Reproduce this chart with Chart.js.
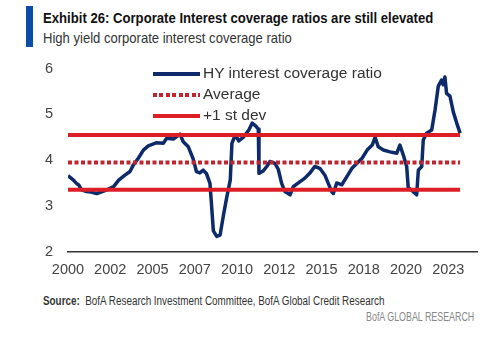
<!DOCTYPE html>
<html>
<head>
<meta charset="utf-8">
<script src="https://cdn.jsdelivr.net/npm/chart.js@4.4.1/dist/chart.umd.min.js"></script>
<style>
  body { margin: 0; width: 500px; height: 360px; background: #fff; position: relative; overflow: hidden;
         font-family: "Liberation Sans", Arial, sans-serif; }
  .bar { position: absolute; left: 26px; top: 6px; width: 7px; height: 41px; background: #0a4ea8; }
  .title { position: absolute; left: 43px; top: 9px; font-size: 15px; font-weight: bold; color: #111; white-space: nowrap;
           transform: scaleX(0.875); transform-origin: left top; }
  .subtitle { position: absolute; left: 43px; top: 29px; font-size: 15px; color: #333; white-space: nowrap;
              transform: scaleX(0.87); transform-origin: left top; }
  #wrap { position: absolute; left: 0; top: 45px; width: 500px; height: 245px; }
  .legend { position: absolute; left: 153px; top: 62px; font-size: 15.5px; color: #333; }
  .legend div { height: 21px; line-height: 21px; white-space: nowrap; }
  .legend span { display: inline-block; width: 47px; height: 4px; vertical-align: middle; margin-right: 3px; }
  .source { position: absolute; left: 43px; top: 294px; font-size: 12.5px; color: #333; white-space: nowrap;
            transform: scaleX(0.79); transform-origin: left top; }
  .brand { position: absolute; right: 26px; top: 310px; font-size: 12px; color: #888; white-space: nowrap;
           transform: scaleX(0.74); transform-origin: right top; }
</style>
</head>
<body>
<div class="bar"></div>
<div class="title">Exhibit 26: Corporate Interest coverage ratios are still elevated</div>
<div class="subtitle">High yield corporate interest coverage ratio</div>
<div id="wrap"><canvas id="chart"></canvas></div>
<div class="legend">
  <div><span style="background:#0d2a6b"></span>HY interest coverage ratio</div>
  <div><span style="background:repeating-linear-gradient(90deg,#c0262d 0 4px,transparent 4px 6.5px)"></span>Average</div>
  <div><span style="background:#dc1f26"></span>+1 st dev</div>
</div>
<div class="source"><b>Source:</b>&nbsp; BofA Research Investment Committee, BofA Global Credit Research</div>
<div class="brand">BofA GLOBAL RESEARCH</div>
<script>
const years = [2000.0, 2000.2, 2000.35, 2000.5, 2000.65, 2000.8, 2001.1, 2001.36, 2001.7, 2001.95,
  2002.3, 2002.7, 2003.0, 2003.37, 2003.67, 2003.86, 2004.16, 2004.46, 2004.75, 2005.25,
  2005.64, 2005.84, 2006.23, 2006.63, 2006.82, 2007.12, 2007.41, 2007.6, 2007.8, 2008.0,
  2008.2, 2008.4, 2008.5, 2008.6, 2008.8, 2009.0, 2009.2, 2009.4, 2009.6, 2009.7,
  2009.9, 2010.1, 2010.4, 2010.7, 2010.9, 2011.1, 2011.26, 2011.3, 2011.54, 2011.76,
  2011.95, 2012.25, 2012.44, 2012.64, 2012.84, 2013.14, 2013.33, 2013.73, 2014.0, 2014.3,
  2014.6, 2014.9, 2015.2, 2015.4, 2015.6, 2015.7, 2015.9, 2016.2, 2016.5, 2016.8,
  2017.1, 2017.4, 2017.7, 2018.0, 2018.17, 2018.36, 2018.66, 2019.05, 2019.45, 2019.64,
  2019.84, 2020.04, 2020.13, 2020.43, 2020.63, 2020.73, 2020.93, 2021.02, 2021.22, 2021.52,
  2021.72, 2021.91, 2022.1, 2022.2, 2022.3, 2022.4, 2022.6, 2022.8, 2023.0, 2023.2]
const ratio = [3.66, 3.60, 3.55, 3.49, 3.45, 3.35, 3.31, 3.30, 3.27, 3.30,
  3.35, 3.42, 3.56, 3.67, 3.75, 3.89, 4.04, 4.22, 4.31, 4.38,
  4.37, 4.48, 4.46, 4.57, 4.40, 4.29, 4.02, 3.75, 3.72, 3.78,
  3.70, 3.49, 2.98, 2.45, 2.33, 2.36, 2.80, 3.20, 3.56, 4.37,
  4.55, 4.42, 4.51, 4.66, 4.81, 4.75, 4.68, 3.71, 3.76, 3.86,
  3.97, 3.93, 3.80, 3.49, 3.31, 3.24, 3.42, 3.53, 3.60, 3.71,
  3.86, 3.82, 3.67, 3.49, 3.31, 3.27, 3.50, 3.46, 3.64, 3.82,
  3.93, 4.04, 4.22, 4.33, 4.50, 4.29, 4.22, 4.18, 4.15, 4.33,
  4.11, 3.86, 3.40, 3.31, 3.24, 3.78, 3.86, 4.44, 4.59, 4.66,
  5.10, 5.62, 5.75, 5.65, 5.82, 5.46, 5.40, 5.05, 4.81, 4.59]

const average = 3.95
const upperBand = 4.55
const lowerBand = 3.35
const bandSpan = [2000, 2023.2]

const tickPos = [2000, 2002.5, 2005, 2007.5, 2010, 2012.5, 2015, 2017.5, 2020, 2022.5]
const tickLabels = ['2000', '2002', '2005', '2007', '2010', '2012', '2015', '2018', '2020', '2023']

const flat = v => bandSpan.map(x => ({ x, y: v }))
const tickFont = { family: '"Liberation Sans", Arial, sans-serif', size: 14.5 }

new Chart(document.getElementById('chart'), {
  type: 'line',
  data: {
    datasets: [
      {
        label: 'HY interest coverage ratio',
        data: years.map((x, i) => ({ x, y: ratio[i] })),
        borderColor: '#0d2a6b',
        borderWidth: 3.5,
        borderJoinStyle: 'round',
        pointRadius: 0,
        tension: 0,
        order: 2
      },
      {
        label: 'Average',
        data: flat(average),
        borderColor: '#c0262d',
        borderWidth: 4,
        borderDash: [4, 2.5],
        pointRadius: 0,
        order: 1
      },
      {
        label: '+1 st dev',
        data: flat(upperBand),
        borderColor: '#dc1f26',
        borderWidth: 4,
        pointRadius: 0,
        order: 1
      },
      {
        label: '-1 st dev',
        data: flat(lowerBand),
        borderColor: '#dc1f26',
        borderWidth: 4,
        pointRadius: 0,
        order: 1
      }
    ]
  },
  options: {
    responsive: true,
    maintainAspectRatio: false,
    animation: false,
    layout: { padding: { top: 10, right: 23, bottom: 8.5, left: 0 } },
    plugins: { legend: { display: false }, tooltip: { enabled: false } },
    scales: {
      x: {
        type: 'linear',
        min: 2000,
        max: 2024.2,
        afterBuildTicks: axis => { axis.ticks = tickPos.map(value => ({ value })) },
        afterFit: axis => { axis.height = 30 },
        ticks: {
          autoSkip: false,
          maxRotation: 0,
          padding: 10,
          color: '#444',
          font: tickFont,
          callback: (v, i) => tickLabels[i]
        },
        grid: { display: false, drawTicks: false },
        border: { display: true, color: '#333', width: 1.5 }
      },
      y: {
        min: 2,
        max: 6,
        afterFit: axis => { axis.width = 68 },
        ticks: { stepSize: 1, padding: 15, color: '#444', font: tickFont },
        grid: { display: false, drawTicks: false },
        border: { display: false }
      }
    }
  }
})
</script>
</body>
</html>
